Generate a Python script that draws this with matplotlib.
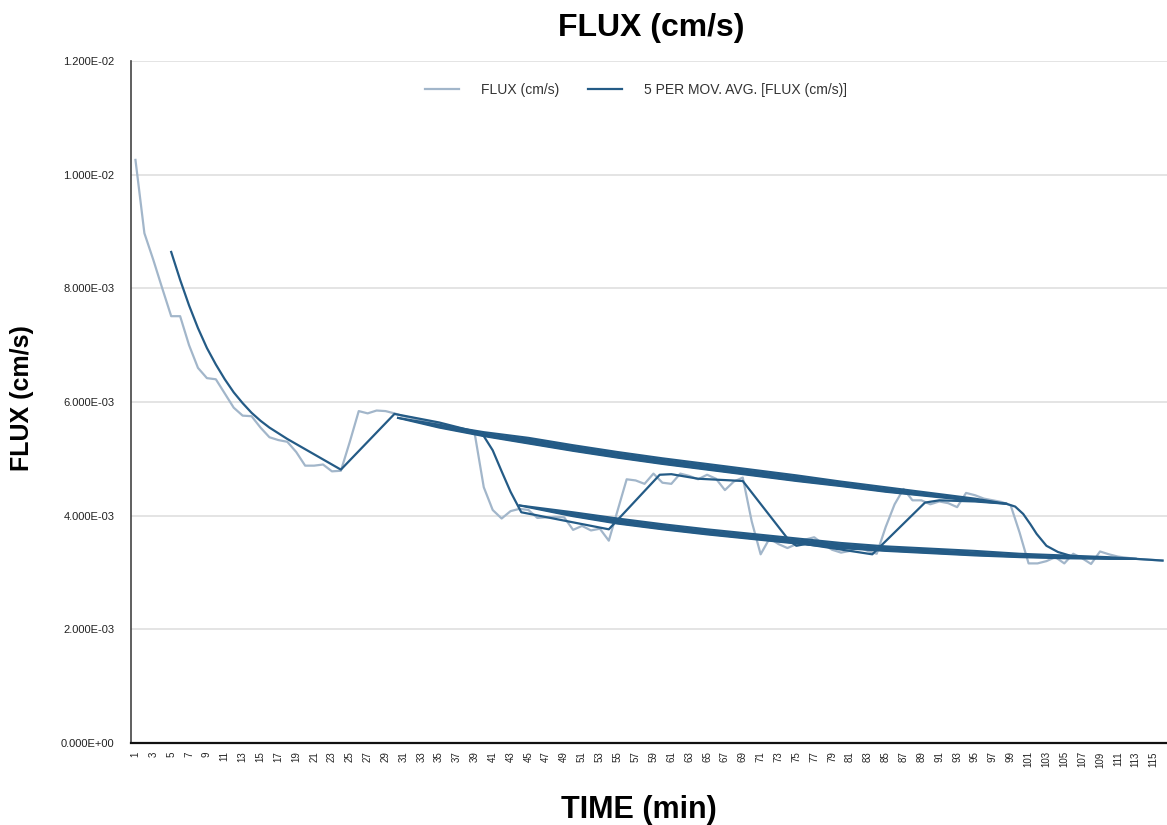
import matplotlib
matplotlib.use("Agg")
import matplotlib.pyplot as plt
import numpy as np

plt.rcParams['font.family'] = ['Liberation Sans', 'DejaVu Sans']

# ---- data (values in units of 1E-03 cm/s) ----
time_min = list(range(1, 117))
flux = [10.26, 8.97, 8.50, 8.00, 7.51, 7.51, 7.00, 6.60, 6.42, 6.40,
        6.15, 5.90, 5.76, 5.75, 5.55, 5.38, 5.33, 5.30, 5.12, 4.88,
        4.88, 4.90, 4.78, 4.79, 5.30, 5.84, 5.80, 5.85, 5.84, 5.80,
        5.75, 5.72, 5.68, 5.65, 5.62, 5.58, 5.55, 5.50, 5.43, 4.50,
        4.10, 3.95, 4.08, 4.12, 4.10, 3.96, 3.97, 3.98, 3.97, 3.75,
        3.82, 3.74, 3.77, 3.56, 4.10, 4.64, 4.62, 4.56, 4.74, 4.58,
        4.56, 4.74, 4.70, 4.64, 4.72, 4.65, 4.45, 4.60, 4.67, 3.90,
        3.32, 3.60, 3.50, 3.43, 3.50, 3.58, 3.62, 3.50, 3.40, 3.35,
        3.38, 3.44, 3.38, 3.33, 3.80, 4.20, 4.47, 4.27, 4.27, 4.20,
        4.25, 4.22, 4.15, 4.40, 4.36, 4.30, 4.27, 4.24, 4.18, 3.70,
        3.16, 3.16, 3.20, 3.27, 3.16, 3.33, 3.25, 3.15, 3.37, 3.32,
        3.28, 3.26, 3.24, 3.23, 3.22, 3.21]

# moving-average trace as drawn (position along time axis, value)
ma_x = [5, 6, 7, 8, 9, 10, 11, 12, 13, 14, 15, 16, 17, 18, 19, 20, 21, 22, 23, 24,
        30, 35, 39, 40, 41, 42, 43, 44.2, 54, 59.7, 61, 64, 69, 74.2, 75, 76, 83.5,
        89.4, 91, 95, 98.5, 99.5, 100.4, 101.2, 101.9, 103, 104.3, 106, 110, 113, 116]
ma_y = [8.64, 8.15, 7.70, 7.30, 6.95, 6.66, 6.40, 6.17, 5.98, 5.81, 5.67, 5.55, 5.45,
        5.35, 5.26, 5.17, 5.08, 4.99, 4.90, 4.81,
        5.79, 5.64, 5.48, 5.40, 5.15, 4.78, 4.42, 4.06, 3.76, 4.72, 4.73, 4.65, 4.61,
        3.56, 3.47, 3.50, 3.32, 4.23, 4.27, 4.25, 4.21, 4.16, 4.03, 3.85, 3.68, 3.47,
        3.36, 3.28, 3.25, 3.24, 3.21]

# overlapping trace bundles of the moving average
band1_x = [30.4, 35, 40, 45, 50, 55, 60, 65, 70, 75, 80, 85, 90, 95, 98.5]
band1_hi = [5.72, 5.60, 5.47, 5.37, 5.24, 5.12, 5.01, 4.91, 4.81, 4.71, 4.60, 4.50, 4.40, 4.30, 4.21]
band1_lo = [5.72, 5.55, 5.40, 5.27, 5.14, 5.02, 4.91, 4.81, 4.71, 4.61, 4.52, 4.42, 4.34, 4.26, 4.21]

band2_x = [44, 50, 55, 60, 65, 70, 75, 80, 85, 90, 95, 100, 105, 110, 113]
band2_hi = [4.18, 4.06, 3.95, 3.85, 3.76, 3.68, 3.60, 3.52, 3.46, 3.42, 3.38, 3.33, 3.30, 3.27, 3.24]
band2_lo = [4.18, 3.99, 3.86, 3.76, 3.67, 3.59, 3.51, 3.43, 3.38, 3.34, 3.30, 3.27, 3.25, 3.24, 3.24]

y_ticks = [0, 2e-3, 4e-3, 6e-3, 8e-3, 10e-3, 12e-3]
y_ticklabels = ["0.000E+00", "2.000E-03", "4.000E-03", "6.000E-03", "8.000E-03", "1.000E-02", "1.200E-02"]

LIGHT = "#a2b6ca"
DARK = "#245b86"

scale = 1e-3

fig = plt.figure(figsize=(11.67, 8.25), dpi=100)
ax = fig.add_axes([131/1167, 1-743/825, 1-131/1167, (743-61)/825])

ax.plot(time_min, np.array(flux)*scale, color=LIGHT, lw=1.6, label="FLUX (cm/s)", zorder=3)
ax.plot(ma_x, np.array(ma_y)*scale, color=DARK, lw=1.6, label="5 PER MOV. AVG. [FLUX (cm/s)]", zorder=4)
for bx, hi, lo in [(band1_x, band1_hi, band1_lo), (band2_x, band2_hi, band2_lo)]:
    bx = np.array(bx)
    ax.fill_between(bx, np.array(lo)*scale, np.array(hi)*scale, color=DARK, lw=0, zorder=4)
    ax.plot(bx, np.array(hi)*scale, color=DARK, lw=1.5, zorder=4)
    ax.plot(bx, np.array(lo)*scale, color=DARK, lw=1.5, zorder=4)

ax.set_xlim(0.5, 116.5)
ax.set_ylim(0, 0.012)
ax.set_yticks(y_ticks)
ax.set_yticklabels(y_ticklabels, fontsize=8, color="#222222")
xt = time_min[::2]
ax.set_xticks(xt)
ax.set_xticklabels([str(v) for v in xt], rotation=90, fontsize=7, color="#222222")
ax.tick_params(axis='y', length=0, pad=12)
ax.tick_params(axis='x', length=0, pad=6)

ax.grid(axis='y', color="#e2e2e2", lw=1.3, zorder=0)
ax.set_axisbelow(True)
for s in ['top', 'right']:
    ax.spines[s].set_visible(False)
ax.spines['left'].set_color("#444444")
ax.spines['left'].set_linewidth(1.2)
ax.spines['bottom'].set_color("#111111")
ax.spines['bottom'].set_linewidth(1.6)

fig.text(651/1167, 1-28/825, "FLUX (cm/s)", fontsize=23, fontweight='bold', ha='center', va='center')
fig.text(22/1167, 1-398/825, "FLUX (cm/s)", fontsize=18, fontweight='bold', ha='center', va='center', rotation=90)
fig.text(639/1167, 1-810/825, "TIME (min)", fontsize=22, fontweight='bold', ha='center', va='center')

leg = ax.legend(loc='center', bbox_to_anchor=((636-131)/(1167-131), (743-90)/(743-61)), ncol=2,
                frameon=False, fontsize=10, handlelength=2.5, columnspacing=2.0, handletextpad=1.6)
for t in leg.get_texts():
    t.set_color("#333333")

fig.savefig("out.png", dpi=100)
